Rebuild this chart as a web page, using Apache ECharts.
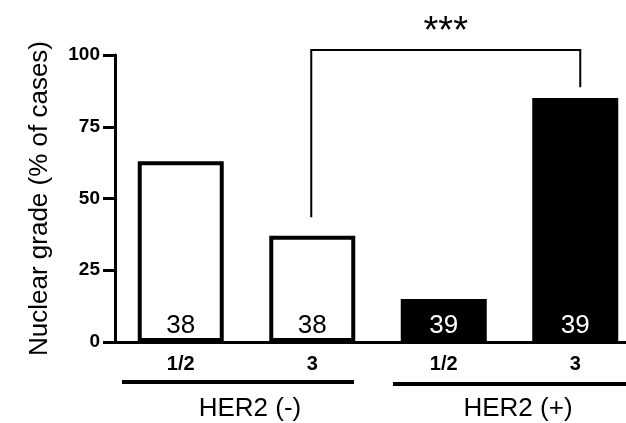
<!DOCTYPE html>
<html><head><meta charset="utf-8">
<script src="https://cdn.jsdelivr.net/npm/echarts@6/dist/echarts.min.js"></script>
<style>html,body{margin:0;padding:0;background:#fff;overflow:hidden}#c{width:660px;height:423px}</style>
</head><body><div id="c"></div>
<script>
const categories = ['1/2', '3', '1/2', '3'];
const percentValues = [63, 37, 15, 85];
const caseCounts = ['38', '38', '39', '39'];
const barFill = ['#ffffff', '#ffffff', '#000000', '#000000'];
const labelColors = ['#000000', '#000000', '#ffffff', '#ffffff'];
const yTicks = [0, 25, 50, 75, 100];
const groupNames = ['HER2 (-)', 'HER2 (+)'];
// bracket: [fromCategory, toCategory, topValue, leftEndValue, rightEndValue]
const bracket = [[1, 3, 101.7, 43.5, 88.8]];
const significance = '***';

const chart = echarts.init(document.getElementById('c'), null, {renderer: 'canvas'});
const FONT = 'Arial, "Liberation Sans", sans-serif';
chart.setOption({
  animation: false,
  backgroundColor: '#ffffff',
  grid: {left: 115, top: 55, height: 287, width: 526},
  xAxis: {
    type: 'category',
    data: categories,
    boundaryGap: true,
    axisLine: {lineStyle: {color: '#000', width: 3}},
    axisTick: {alignWithLabel: true, length: 10, lineStyle: {color: '#000', width: 3}},
    axisLabel: {color: '#000', fontWeight: 'bold', fontSize: 20, fontFamily: FONT, margin: 12}
  },
  yAxis: {
    type: 'value', min: 0, max: 100, interval: 25,
    name: 'Nuclear grade (% of cases)',
    nameLocation: 'middle', nameGap: 62, nameRotate: 90,
    nameTextStyle: {color: '#000', fontSize: 26, fontFamily: FONT},
    axisLine: {show: true, lineStyle: {color: '#000', width: 3}},
    axisTick: {show: true, length: 12, lineStyle: {color: '#000', width: 3}},
    axisLabel: {color: '#000', fontWeight: 'bold', fontSize: 19, fontFamily: FONT, margin: 15,
      formatter: v => yTicks.includes(v) ? String(v) : ''},
    splitLine: {show: false}
  },
  series: [{
    type: 'bar',
    barWidth: 86,
    data: percentValues.map((v, i) => ({
      value: v,
      itemStyle: {color: barFill[i], borderColor: '#000', borderWidth: 4},
      label: {show: true, position: 'insideBottom', distance: 3, formatter: caseCounts[i],
        color: labelColors[i], fontSize: 26, fontFamily: FONT}
    }))
  }, {
    type: 'custom',
    silent: true,
    data: bracket,
    renderItem: function (params, api) {
      const x0 = api.value(0), x1 = api.value(1);
      const top = api.value(2), l = api.value(3), r = api.value(4);
      const pL = api.coord([x0, l]), pTL = api.coord([x0, top]);
      const pTR = api.coord([x1, top]), pR = api.coord([x1, r]);
      return {
        type: 'group',
        children: [{
          type: 'polyline',
          shape: {points: [[pL[0] - 1, pL[1]], [pTL[0] - 1, pTL[1]], [pTR[0] + 5, pTR[1]], [pR[0] + 5, pR[1]]]},
          style: {stroke: '#000', lineWidth: 2, fill: null}
        }, {
          type: 'text',
          style: {text: significance, x: (pTL[0] + pTR[0]) / 2 + 2, y: pTL[1] - 18,
            fill: '#000', font: '38px ' + FONT, textAlign: 'center', textVerticalAlign: 'middle'}
        }]
      };
    }
  }],
  graphic: [
    {type: 'line', shape: {x1: 122, y1: 382, x2: 354, y2: 382}, style: {stroke: '#000', lineWidth: 4}},
    {type: 'line', shape: {x1: 393, y1: 384, x2: 660, y2: 384}, style: {stroke: '#000', lineWidth: 4}},
    {type: 'text', style: {text: groupNames[0], x: 250, y: 409, fill: '#000', font: '26px ' + FONT, textAlign: 'center', textVerticalAlign: 'middle'}},
    {type: 'text', style: {text: groupNames[1], x: 518, y: 409, fill: '#000', font: '26px ' + FONT, textAlign: 'center', textVerticalAlign: 'middle'}}
  ]
});
</script></body></html>
